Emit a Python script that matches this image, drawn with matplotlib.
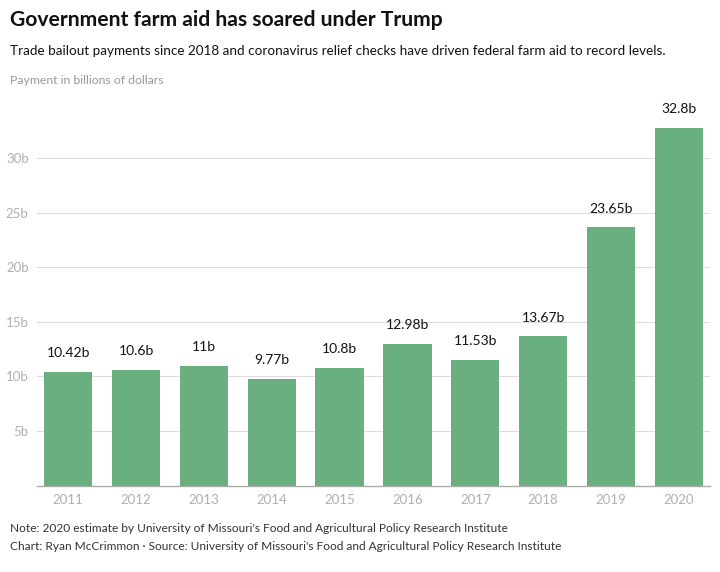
import matplotlib
matplotlib.use("Agg")
import matplotlib.pyplot as plt

plt.rcParams['font.family'] = ['Lato', 'DejaVu Sans']

years = ['2011', '2012', '2013', '2014', '2015', '2016', '2017', '2018', '2019', '2020']
payments = [10.42, 10.6, 11, 9.77, 10.8, 12.98, 11.53, 13.67, 23.65, 32.8]
value_labels = ['10.42b', '10.6b', '11b', '9.77b', '10.8b', '12.98b', '11.53b', '13.67b', '23.65b', '32.8b']
yticks = [5, 10, 15, 20, 25, 30]
ytick_labels = ['5b', '10b', '15b', '20b', '25b', '30b']

fig = plt.figure(figsize=(7.2, 5.72), dpi=100)
ax = fig.add_axes([0.0514, 0.151, 0.9347, 0.668])

x = range(len(years))
ax.bar(x, payments, width=0.71, color='#6aaf80', zorder=2)
for i, v in enumerate(payments):
    ax.annotate(value_labels[i], (i, v), xytext=(0, 9), textcoords='offset points',
                ha='center', va='bottom', fontsize=10, color='#111111')

ax.set_xlim(-0.46, 9.46)
ax.set_ylim(0, 35)
ax.set_yticks(yticks)
ax.set_yticklabels(ytick_labels)
ax.set_xticks(list(x))
ax.set_xticklabels(years)
ax.grid(axis='y', color='#dddddd', linewidth=0.8, zorder=0)
ax.tick_params(axis='both', length=0, labelsize=9.5, colors='#b0b0b0')
ax.tick_params(axis='y', pad=6)
ax.tick_params(axis='x', pad=6)
for s in ['top', 'right', 'left']:
    ax.spines[s].set_visible(False)
ax.spines['bottom'].set_color('#aaaaaa')
ax.spines['bottom'].set_linewidth(1)

fig.text(10/720, 1-20/572, 'Government farm aid has soared under Trump', fontsize=15.2,
         fontweight='bold', va='center', ha='left', color='#111111')
fig.text(10/720, 1-51/572, 'Trade bailout payments since 2018 and coronavirus relief checks have driven federal farm aid to record levels.',
         fontsize=9.75, va='center', ha='left', color='#111111')
fig.text(10/720, 1-80/572, 'Payment in billions of dollars', fontsize=8.8, va='center', ha='left', color='#999999')
fig.text(10/720, 1-529/572, "Note: 2020 estimate by University of Missouri's Food and Agricultural Policy Research Institute",
         fontsize=8.6, va='center', ha='left', color='#333333')
fig.text(10/720, 1-546/572, "Chart: Ryan McCrimmon \u00b7 Source: University of Missouri's Food and Agricultural Policy Research Institute",
         fontsize=8.6, va='center', ha='left', color='#333333')

fig.savefig('out.png', dpi=100)
